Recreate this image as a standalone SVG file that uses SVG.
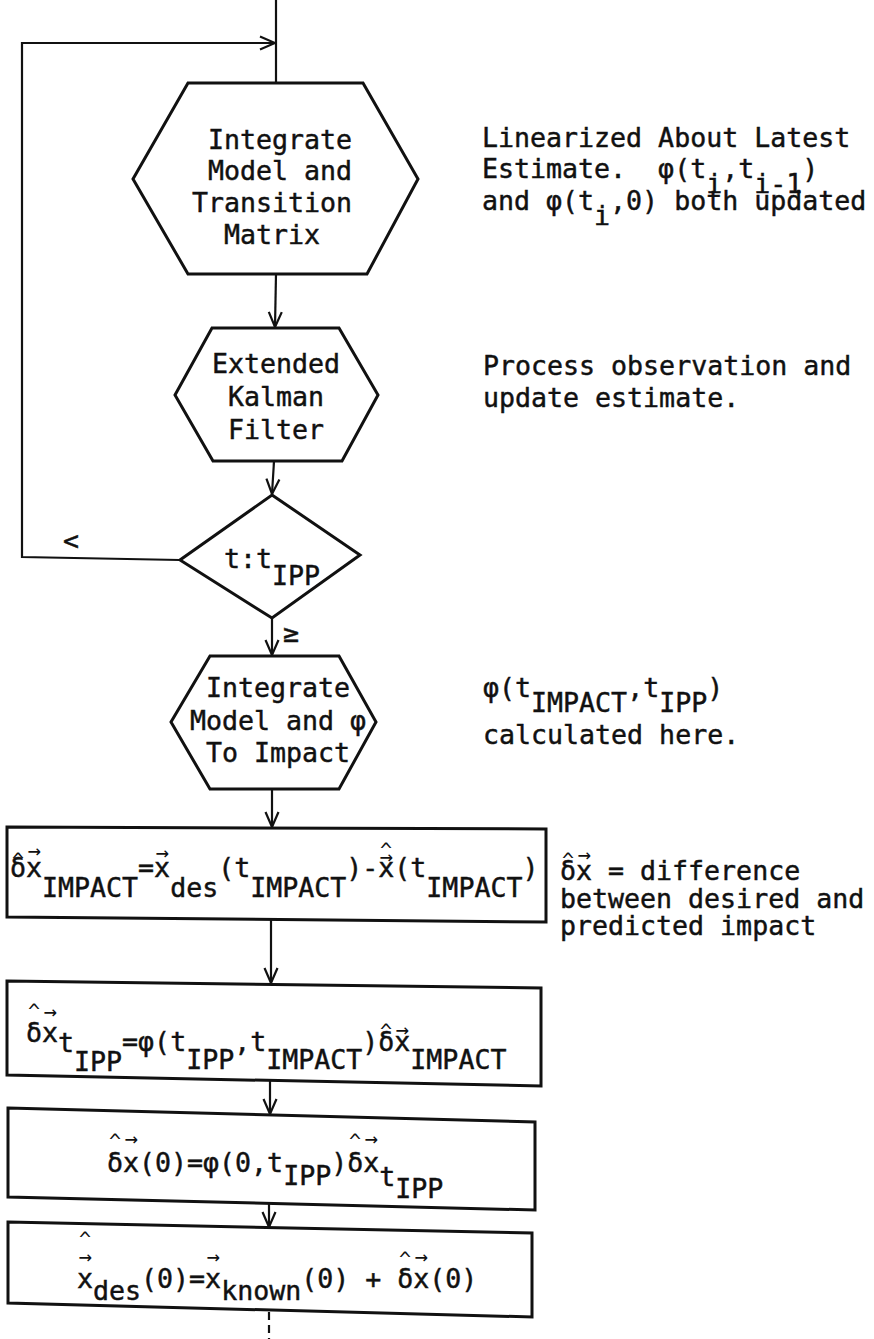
<svg xmlns="http://www.w3.org/2000/svg" width="874" height="1339" viewBox="0 0 874 1339">
<style>
.s{fill:none;stroke:#111;stroke-width:3;stroke-linejoin:miter}
.c{fill:none;stroke:#111;stroke-width:2.2}
.t{font-family:"DejaVu Sans Mono","Liberation Mono",monospace;font-size:26.6px;fill:#111;stroke:#111;stroke-width:0.45px}
.h{font-family:"DejaVu Sans Mono","Liberation Mono",monospace;font-size:20px;fill:#111;text-anchor:middle}
.a{font-family:"DejaVu Sans Mono","Liberation Mono",monospace;font-size:22px;fill:#111;text-anchor:middle}
</style>
<defs>
<marker id="ah" markerUnits="userSpaceOnUse" markerWidth="18" markerHeight="16" refX="16" refY="8" orient="auto">
<path d="M1,1.5 L16,8 L1,14.5" fill="none" stroke="#111" stroke-width="2.2"/>
</marker>
</defs>
<rect width="874" height="1339" fill="#fff"/>
<g id="connectors">
<path class="c" d="M276,0 L276,83"/>
<path class="c" d="M180,560 L22,557 L22,43 L275,43" marker-end="url(#ah)"/>
<path class="c" d="M276,274 L275,327" marker-end="url(#ah)"/>
<path class="c" d="M274,461 L272,494" marker-end="url(#ah)"/>
<path class="c" d="M272,618 L272,655" marker-end="url(#ah)"/>
<path class="c" d="M272,789 L272,827" marker-end="url(#ah)"/>
<path class="c" d="M271,920 L271,983" marker-end="url(#ah)"/>
<path class="c" d="M270,1081 L270,1114" marker-end="url(#ah)"/>
<path class="c" d="M269,1204 L269,1227" marker-end="url(#ah)"/>
<path class="c" d="M269,1312 L269,1339" stroke-dasharray="8,5"/>
<text class="t" x="63" y="550">&lt;</text>
<text class="t" x="283" y="642">≥</text>
</g>
<g id="n1">
<polygon class="s" points="188,83 363,83 418,179 367,274 188,274 133,179"/>
<text class="t" x="208" y="149">Integrate</text>
<text class="t" x="208" y="180">Model and</text>
<text class="t" x="192" y="212">Transition</text>
<text class="t" x="224" y="244">Matrix</text>
</g>
<g id="note1">
<text class="t" x="482" y="147">Linearized About Latest</text>
<text class="t" x="482" y="178" xml:space="preserve">Estimate.  φ(t<tspan y="193">i</tspan><tspan y="178">,t</tspan><tspan y="193">i-1</tspan><tspan y="178">)</tspan></text>
<text class="t" x="482" y="210" xml:space="preserve">and φ(t<tspan y="225">i</tspan><tspan y="210">,0) both updated</tspan></text>
</g>
<g id="n2">
<polygon class="s" points="212,328 339,328 378,395 342,461 213,461 175,395"/>
<text class="t" x="212" y="373">Extended</text>
<text class="t" x="228" y="406">Kalman</text>
<text class="t" x="228" y="439">Filter</text>
</g>
<g id="note2">
<text class="t" x="483" y="375">Process observation and</text>
<text class="t" x="483" y="407">update estimate.</text>
</g>
<g id="n3">
<polygon class="s" points="272,495 360,555 272,618 180,560"/>
<text class="t" x="224" y="568">t:t<tspan y="585">IPP</tspan></text>
</g>
<g id="n4">
<polygon class="s" points="210,656 339,656 376,722 339,789 210,789 171,722"/>
<text class="t" x="206" y="697">Integrate</text>
<text class="t" x="190" y="730">Model and φ</text>
<text class="t" x="206" y="762">To Impact</text>
</g>
<g id="note3">
<text class="t" x="483" y="697">φ(t<tspan y="712">IMPACT</tspan><tspan y="697">,t</tspan><tspan y="712">IPP</tspan><tspan y="697">)</tspan></text>
<text class="t" x="483" y="744">calculated here.</text>
</g>
<g id="n5">
<polygon class="s" points="7,827 546,829 546,922 7,917"/>
<text class="t" x="10" y="877">δx<tspan y="897">IMPACT</tspan><tspan y="877">=x</tspan><tspan y="897">des</tspan><tspan y="877">(t</tspan><tspan y="897">IMPACT</tspan><tspan y="877">)-x(t</tspan><tspan y="897">IMPACT</tspan><tspan y="877">)</tspan></text>
<text class="h" x="18" y="867">^</text>
<text class="a" x="34" y="858">→</text>
<text class="a" x="162" y="860">→</text>
<text class="a" x="386" y="864">→</text>
<text class="h" x="386" y="857">^</text>
</g>
<g id="note4">
<text class="t" x="560" y="880" xml:space="preserve">δx = difference</text>
<text class="h" x="568" y="867">^</text>
<text class="a" x="584" y="862">→</text>
<text class="t" x="560" y="908">between desired and</text>
<text class="t" x="560" y="935">predicted impact</text>
</g>
<g id="n6">
<polygon class="s" points="7,981 541,988 541,1086 7,1075"/>
<text class="t" x="26" y="1042">δx<tspan y="1052">t</tspan><tspan y="1071">IPP</tspan><tspan y="1051">=φ(t</tspan><tspan y="1069">IPP</tspan><tspan y="1051">,t</tspan><tspan y="1069">IMPACT</tspan><tspan y="1051">)δx</tspan><tspan y="1069">IMPACT</tspan></text>
<text class="h" x="34" y="1018">^</text>
<text class="a" x="50" y="1019">→</text>
<text class="h" x="386" y="1038">^</text>
<text class="a" x="402" y="1037">→</text>
</g>
<g id="n7">
<polygon class="s" points="8,1108 535,1122 535,1210 8,1197"/>
<text class="t" x="107" y="1172">δx(0)=φ(0,t<tspan y="1185">IPP</tspan><tspan y="1172">)δx</tspan><tspan y="1186">t</tspan><tspan y="1198">IPP</tspan></text>
<text class="h" x="115" y="1148">^</text>
<text class="a" x="131" y="1146">→</text>
<text class="h" x="355" y="1148">^</text>
<text class="a" x="371" y="1146">→</text>
</g>
<g id="n8">
<polygon class="s" points="8,1222 532,1233 532,1317 8,1303"/>
<text class="t" x="77" y="1288" xml:space="preserve">x<tspan y="1300">des</tspan><tspan y="1288">(0)=x</tspan><tspan y="1300">known</tspan><tspan y="1288">(0) + δx(0)</tspan></text>
<text class="h" x="85" y="1246">^</text>
<text class="a" x="85" y="1264">→</text>
<text class="a" x="213" y="1264">→</text>
<text class="h" x="405" y="1266">^</text>
<text class="a" x="421" y="1264">→</text>
</g>
</svg>
